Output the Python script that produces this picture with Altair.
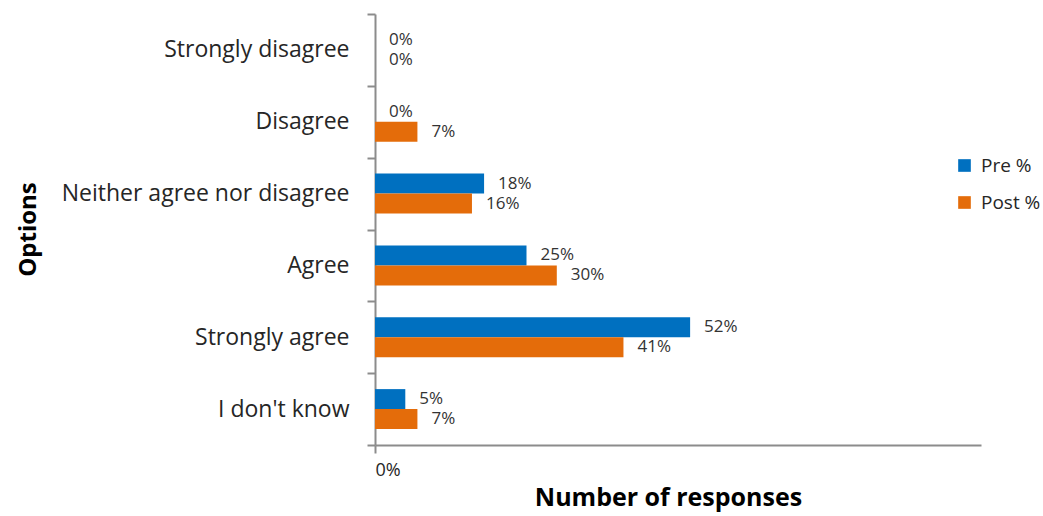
import altair as alt
import pandas as pd

categories = ["Strongly disagree", "Disagree", "Neither agree nor disagree",
              "Agree", "Strongly agree", "I don't know"]
pre_values = [0, 0, 18, 25, 52, 5]
post_values = [0, 7, 16, 30, 41, 7]
series = ["Pre %", "Post %"]
colors = ["#0070C0", "#E46C0A"]

rows = []
for c, a, b in zip(categories, pre_values, post_values):
    rows.append({"Option": c, "Series": series[0], "Value": a})
    rows.append({"Option": c, "Series": series[1], "Value": b})
df = pd.DataFrame(rows)
df["Label"] = df["Value"].astype(str) + "%"

FONT = "Open Sans"

y_enc = alt.Y("Option:N", sort=categories,
              scale=alt.Scale(paddingInner=0, paddingOuter=0),
              axis=alt.Axis(title="Options", tickBand="extent", tickSize=8,
                            labelPadding=18, labelFontSize=23, labelColor="#262626",
                            labelFont=FONT, domainColor="#8c8c8c", tickColor="#8c8c8c",
                            domainWidth=2, tickWidth=2, labelLimit=400,
                            titleFont=FONT, titleFontSize=24, titleFontWeight="bold",
                            titleColor="#000000", titleX=-347, titleY=215,
                            titleAngle=-90, titleBaseline="middle", titleAlign="center"))
yoff = alt.YOffset("Series:N", sort=series,
                   scale=alt.Scale(paddingInner=0, paddingOuter=0.8))
x_enc = alt.X("Value:Q", scale=alt.Scale(domain=[0, 100], nice=False),
              axis=alt.Axis(title="Number of responses", values=[0],
                            labelExpr="datum.value + '%'", tickSize=8,
                            labelPadding=8, labelFontSize=18, labelColor="#262626",
                            labelFont=FONT, domainColor="#8c8c8c", tickColor="#8c8c8c",
                            domainWidth=2, tickWidth=2, grid=False,
                            titleFont=FONT, titleFontSize=25, titleFontWeight="bold",
                            titleColor="#000000", titleY=52, titleX=293,
                            titleBaseline="middle", titleAlign="center"))

bars = alt.Chart(df).mark_bar(size=20).encode(
    x=x_enc,
    y=y_enc,
    yOffset=yoff,
    color=alt.Color("Series:N", sort=series,
                    scale=alt.Scale(domain=series, range=colors),
                    legend=alt.Legend(title=None, orient="none", legendX=580,
                                      legendY=142, symbolType="square",
                                      symbolSize=160, symbolStrokeWidth=0,
                                      labelFont=FONT, labelFontSize=19,
                                      labelColor="#262626", labelOffset=7,
                                      rowPadding=17)),
)

labels = alt.Chart(df).mark_text(align="left", baseline="middle", dx=14,
                                 fontSize=17, font=FONT, color="#333333").encode(
    x="Value:Q",
    y=alt.Y("Option:N", sort=categories),
    yOffset=alt.YOffset("Series:N", sort=series),
    text="Label:N",
)

chart = alt.layer(bars, labels).properties(
    width=606, height=431,
    background="white",
    autosize=alt.AutoSizeParams(type="none"),
    padding={"left": 375, "top": 14, "right": 62, "bottom": 71},
).configure_view(stroke="transparent", strokeWidth=0)

chart.save("out.html", embed_options={"renderer": "svg", "actions": False})
